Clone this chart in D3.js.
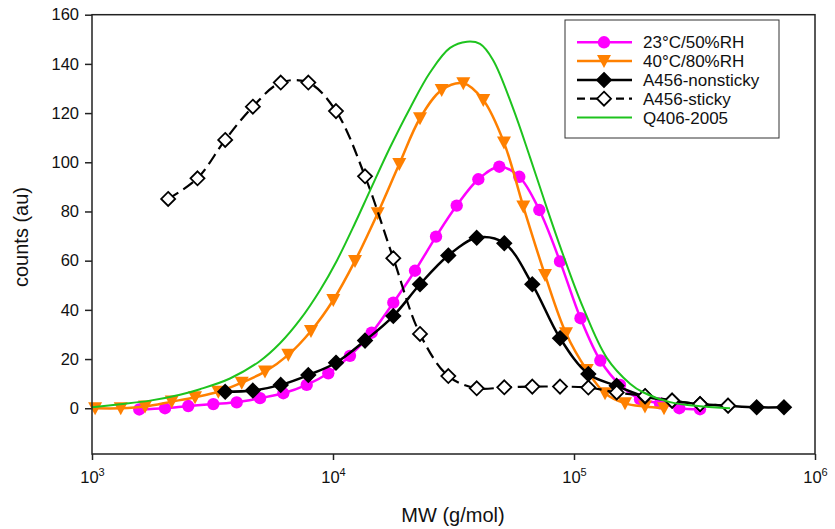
<!DOCTYPE html>
<html><head><meta charset="utf-8">
<script src="https://cdn.jsdelivr.net/npm/d3@7/dist/d3.min.js"></script>
<style>body{margin:0;background:#fff}svg{display:block}text{font-family:Arial,"Liberation Sans",sans-serif;fill:#111}</style>
</head><body>
<svg id="c" width="835" height="529"></svg>
<script>
// ---- data (MW in g/mol, counts in au) ----
const seriesNames = ["23°C/50%RH", "40°C/80%RH", "A456-nonsticky", "A456-sticky", "Q406-2005"];
const yTicks = [0, 20, 40, 60, 80, 100, 120, 140, 160];
const xTicks = [1e3, 1e4, 1e5, 1e6];
const xTickExp = ["3", "4", "5", "6"];

const mwPink = [1571, 2009, 2509, 3187, 3985, 4979, 6220, 7779, 9561, 11760, 14470, 17790, 21890, 26760, 32610, 40090, 48980, 59290, 71780, 87480, 106400, 128600, 155200, 187900, 227400, 273500, 333300];
const pink = [-0.5, 0, 0.9, 1.7, 2.4, 4.1, 6.1, 9.5, 14.2, 21.3, 30.7, 42.9, 55.9, 69.8, 82.4, 93.1, 98.2, 94.1, 80.6, 59.7, 36.6, 19.4, 9.5, 3.7, 2.0, 0, -0.4];

const mwOrange = [1030, 1316, 1660, 2142, 2676, 3343, 4181, 5222, 6523, 8103, 10030, 12340, 15330, 18840, 22960, 28250, 34730, 42030, 51220, 61610, 75800, 92640, 112900, 134500, 162800, 197000, 236300];
const orange = [0, 0, 0.7, 2.7, 4.5, 6.7, 10.4, 14.9, 21.7, 31.4, 44, 59.9, 79.3, 99.3, 117.9, 129.4, 132.1, 125.3, 108, 82, 54.2, 30.5, 15.6, 6.1, 2.0, 0.7, 0];

const mwNon = [3570, 4650, 6070, 7900, 10290, 13580, 17790, 22960, 30090, 39480, 51370, 67140, 87500, 114700, 150400, 197200, 255300, 333600, 435700, 572800, 743600];
const nonsticky = [6.7, 7.2, 9.5, 13.5, 18.5, 27.5, 37.5, 50.4, 62.1, 69.3, 67.1, 50.4, 28.5, 13.9, 9.1, 4.8, 3.1, 1.7, 1.0, 0.4, 0.4];

const mwSticky = [2070, 2740, 3570, 4650, 6070, 7900, 10290, 13580, 17790, 22960, 30090, 39480, 51370, 67140, 87500, 114700, 150400, 197200, 255300, 333600, 435700];
const sticky = [85.1, 93.5, 109.1, 122.6, 132.4, 132.4, 120.8, 94.3, 61.0, 30.2, 13.1, 8.1, 8.5, 8.8, 8.8, 8.4, 6.4, 5.0, 3.1, 1.7, 1.1];

const mwGreen = [1000, 1307, 1741, 2318, 2806, 3737, 4979, 6027, 7298, 8835, 10360, 12340, 14240, 17240, 20870, 25270, 30590, 35970, 40740, 46120, 55830, 65690, 77040, 90030, 109000, 136700, 170800, 193400, 250200, 333300, 444000];
const green = [0.4, 1.6, 3.1, 5.5, 7.75, 12.1, 19.2, 26.4, 36, 48, 59.9, 75.2, 88.5, 106, 122, 136.5, 146.5, 149, 148.1, 141.6, 122, 102, 81.6, 62.5, 41, 20.5, 10, 6.5, 2.5, 0.8, 0];

// ---- layout ----
const L = 92, R = 815, T = 14.7, B = 454;
const svg = d3.select("#c");
const x = d3.scaleLog().domain([1e3, 1e6]).range([L, R]);
const y = d3.scaleLinear().domain([-18.6, 160]).range([B, T]);

const zip = (a, b) => a.map((v, i) => [v, b[i]]);
const series = [
  {name: seriesNames[0], data: zip(mwPink, pink), color: "#ff00ff", w: 2.5, dash: null, marker: "circle", fill: "#ff00ff"},
  {name: seriesNames[1], data: zip(mwOrange, orange), color: "#ff8000", w: 2.5, dash: null, marker: "tri", fill: "#ff8000"},
  {name: seriesNames[2], data: zip(mwNon, nonsticky), color: "#000", w: 2.5, dash: null, marker: "diamond", fill: "#000"},
  {name: seriesNames[3], data: zip(mwSticky, sticky), color: "#000", w: 2.2, dash: "12,6", marker: "diamond", fill: "#fff"},
  {name: seriesNames[4], data: zip(mwGreen, green), color: "#1ec31e", w: 2, dash: null, marker: null}
];

function markerPath(type) {
  if (type === "circle") return d3.symbol(d3.symbolCircle, 120)();
  if (type === "diamond") return "M0,-7L7,0L0,7L-7,0Z";
  if (type === "tri") return "M-7,-6L7,-6L0,7Z";
  return "";
}

// axes
const yAxis = d3.axisLeft(y).tickValues(yTicks).tickSize(7).tickPadding(6);
const gy = svg.append("g").attr("transform", `translate(${L},0)`).call(yAxis);
gy.select(".domain").remove();
gy.selectAll("line").attr("stroke", "#222").attr("stroke-width", 1.5);
gy.selectAll("text").attr("font-size", 16.5).style("fill", "#111");

const xAxis = d3.axisBottom(x).tickValues(xTicks).tickSize(6).tickFormat(() => "");
const gx = svg.append("g").attr("transform", `translate(0,${B})`).call(xAxis);
gx.select(".domain").remove();
gx.selectAll("line").attr("stroke", "#222").attr("stroke-width", 1.5);
gx.selectAll(".tick").each(function(d, i) {
  const t = d3.select(this).append("text").attr("y", 29).attr("text-anchor", "middle").attr("font-size", 16.5).style("fill", "#111");
  t.append("tspan").text("10");
  t.append("tspan").attr("font-size", 11).attr("dy", -7).text(xTickExp[i]);
});

const line = d3.line().x(d => x(d[0])).y(d => y(d[1])).curve(d3.curveCatmullRom.alpha(0.5));
const plot = svg.append("g");
series.forEach(s => {
  plot.append("path").attr("d", line(s.data)).attr("fill", "none").attr("stroke", s.color)
    .attr("stroke-width", s.w).attr("stroke-dasharray", s.dash).attr("stroke-linejoin", "round");
  if (s.marker) {
    plot.selectAll(null).data(s.data).enter().append("path")
      .attr("d", markerPath(s.marker))
      .attr("transform", d => `translate(${x(d[0])},${y(d[1])})`)
      .attr("fill", s.fill).attr("stroke", s.marker === "diamond" ? "#000" : "none").attr("stroke-width", 1.8);
  }
});

// frame
svg.append("rect").attr("x", L).attr("y", T).attr("width", R - L).attr("height", B - T)
  .attr("fill", "none").attr("stroke", "#222").attr("stroke-width", 1.5);

// axis titles
svg.append("text").attr("x", 453).attr("y", 522).attr("text-anchor", "middle").attr("font-size", 20).text("MW (g/mol)");
svg.append("text").attr("transform", "translate(28,237) rotate(-90)").attr("text-anchor", "middle").attr("font-size", 20).text("counts (au)");

// legend
const lg = svg.append("g");
lg.append("rect").attr("x", 565).attr("y", 20).attr("width", 214).attr("height", 118).attr("fill", "#fff").attr("stroke", "#333").attr("stroke-width", 1);
series.forEach((s, i) => {
  const yy = 42.3 + i * 18.8;
  lg.append("line").attr("x1", 577).attr("x2", 632).attr("y1", yy).attr("y2", yy)
    .attr("stroke", s.color).attr("stroke-width", s.w).attr("stroke-dasharray", s.dash ? "8,5" : null);
  if (s.marker) lg.append("path").attr("d", markerPath(s.marker)).attr("transform", `translate(604,${yy})`)
    .attr("fill", s.fill).attr("stroke", s.marker === "diamond" ? "#000" : "none").attr("stroke-width", 1.8);
  lg.append("text").attr("x", 643).attr("y", yy + 6).attr("font-size", 17).text(s.name);
});
</script>
</body></html>
